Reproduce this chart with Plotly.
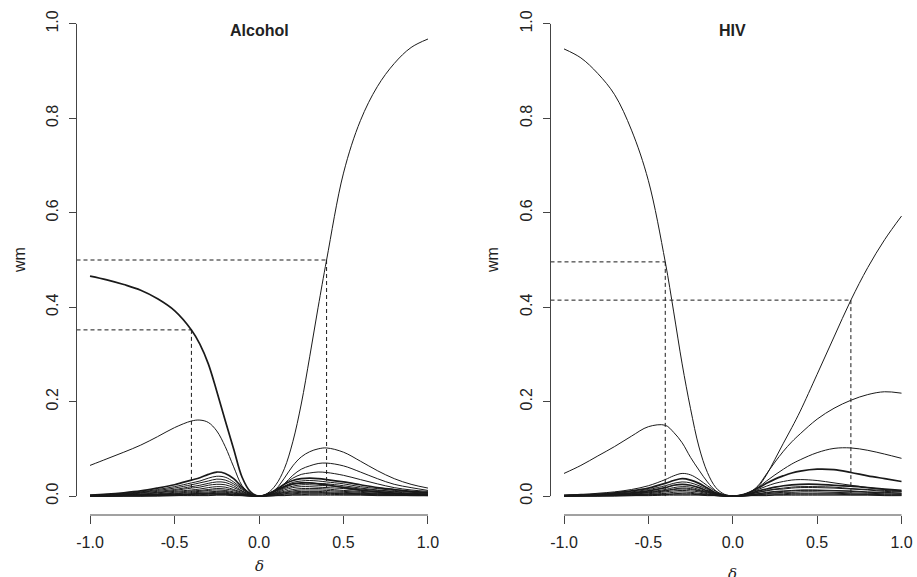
import plotly.graph_objects as go

# ---------------- data ----------------
DELTA = [-1.0, -0.9, -0.8, -0.7, -0.6, -0.5, -0.4, -0.35, -0.3, -0.25, -0.2, -0.15, -0.1, -0.05, 0.0,
         0.05, 0.1, 0.15, 0.2, 0.25, 0.3, 0.35, 0.4, 0.5, 0.6, 0.7, 0.8, 0.9, 1.0]

X_TICKS = [-1.0, -0.5, 0.0, 0.5, 1.0]
X_TICKTEXT = ["-1.0", "-0.5", "0.0", "0.5", "1.0"]
Y_TICKS = [0.0, 0.2, 0.4, 0.6, 0.8, 1.0]
Y_TICKTEXT = ["0.0", "0.2", "0.4", "0.6", "0.8", "1.0"]

PANEL_TITLES = ["Alcohol", "HIV"]

# Alcohol weights
alc_w1 = [0, 0, 0.001, 0.001, 0.002, 0.003, 0.004, 0.005, 0.005, 0.005, 0.005, 0.004, 0.003, 0.001, 0,
          0.006, 0.024, 0.058, 0.115, 0.195, 0.295, 0.40, 0.50, 0.684, 0.795, 0.867, 0.916, 0.950, 0.968]
alc_w2 = [0.466, 0.458, 0.448, 0.436, 0.418, 0.393, 0.352, 0.322, 0.28, 0.222, 0.16, 0.1, 0.04, 0.009, 0,
          0.004, 0.012, 0.02, 0.026, 0.028, 0.028, 0.026, 0.024, 0.018, 0.013, 0.009, 0.006, 0.004, 0.003]
alc_w3 = [0.065, 0.079, 0.093, 0.108, 0.126, 0.145, 0.159, 0.161, 0.156, 0.138, 0.105, 0.062, 0.022, 0.005, 0,
          0.004, 0.015, 0.038, 0.064, 0.083, 0.094, 0.1, 0.102, 0.093, 0.074, 0.054, 0.037, 0.025, 0.017]
alc_w4 = [0.002, 0.004, 0.007, 0.011, 0.017, 0.024, 0.034, 0.039, 0.046, 0.051, 0.048, 0.037, 0.019, 0.005, 0,
          0.004, 0.013, 0.025, 0.033, 0.037, 0.038, 0.037, 0.035, 0.030, 0.024, 0.018, 0.014, 0.010, 0.008]
alc_w5 = [0.002, 0.003, 0.006, 0.009, 0.014, 0.020, 0.028, 0.032, 0.038, 0.042, 0.040, 0.030, 0.016, 0.004, 0,
          0.003, 0.011, 0.026, 0.044, 0.057, 0.064, 0.069, 0.070, 0.064, 0.051, 0.037, 0.025, 0.018, 0.012]
alc_w6 = [0.001, 0.003, 0.005, 0.008, 0.012, 0.017, 0.024, 0.028, 0.032, 0.036, 0.034, 0.026, 0.014, 0.004, 0,
          0.004, 0.013, 0.026, 0.038, 0.046, 0.049, 0.051, 0.050, 0.044, 0.035, 0.026, 0.018, 0.013, 0.010]
alc_w7 = [0.001, 0.002, 0.004, 0.007, 0.010, 0.014, 0.020, 0.023, 0.027, 0.030, 0.029, 0.022, 0.011, 0.003, 0,
          0.003, 0.012, 0.021, 0.029, 0.032, 0.033, 0.032, 0.030, 0.026, 0.020, 0.016, 0.012, 0.009, 0.007]
alc_w8 = [0.001, 0.002, 0.004, 0.006, 0.008, 0.012, 0.017, 0.019, 0.023, 0.025, 0.024, 0.018, 0.010, 0.003, 0,
          0.003, 0.010, 0.018, 0.025, 0.027, 0.028, 0.027, 0.026, 0.022, 0.017, 0.013, 0.010, 0.008, 0.006]
alc_w9 = [0.001, 0.002, 0.003, 0.004, 0.007, 0.010, 0.013, 0.015, 0.018, 0.020, 0.019, 0.014, 0.008, 0.002, 0,
          0.002, 0.008, 0.016, 0.021, 0.024, 0.024, 0.023, 0.022, 0.019, 0.015, 0.012, 0.009, 0.006, 0.005]
alc_w10 = [0.001, 0.001, 0.002, 0.004, 0.005, 0.008, 0.011, 0.012, 0.014, 0.016, 0.015, 0.012, 0.006, 0.002, 0,
           0.002, 0.007, 0.013, 0.018, 0.020, 0.020, 0.019, 0.018, 0.016, 0.012, 0.010, 0.007, 0.005, 0.004]
alc_w11 = [0.001, 0.001, 0.002, 0.003, 0.004, 0.006, 0.009, 0.010, 0.012, 0.013, 0.012, 0.009, 0.005, 0.001, 0,
           0.002, 0.006, 0.010, 0.014, 0.016, 0.016, 0.016, 0.015, 0.012, 0.010, 0.008, 0.006, 0.004, 0.003]
alc_w12 = [0, 0.001, 0.001, 0.002, 0.003, 0.005, 0.007, 0.008, 0.009, 0.010, 0.010, 0.007, 0.004, 0.001, 0,
           0.001, 0.005, 0.008, 0.011, 0.013, 0.013, 0.013, 0.012, 0.010, 0.008, 0.006, 0.005, 0.004, 0.003]
alc_w13 = [0, 0.001, 0.001, 0.002, 0.003, 0.004, 0.005, 0.006, 0.007, 0.008, 0.008, 0.006, 0.003, 0.001, 0,
           0.001, 0.004, 0.007, 0.009, 0.010, 0.010, 0.010, 0.009, 0.008, 0.006, 0.005, 0.004, 0.003, 0.002]
alc_w14 = [0, 0, 0.001, 0.001, 0.002, 0.003, 0.004, 0.005, 0.005, 0.006, 0.006, 0.004, 0.002, 0.001, 0,
           0.001, 0.003, 0.005, 0.007, 0.008, 0.008, 0.008, 0.007, 0.006, 0.005, 0.004, 0.003, 0.002, 0.002]
alc_w15 = [0, 0, 0.001, 0.001, 0.001, 0.002, 0.003, 0.003, 0.004, 0.004, 0.004, 0.003, 0.002, 0, 0,
           0.001, 0.002, 0.004, 0.005, 0.006, 0.006, 0.006, 0.006, 0.005, 0.004, 0.003, 0.002, 0.002, 0.001]
alc_w16 = [0, 0, 0, 0, 0.001, 0.001, 0.002, 0.002, 0.002, 0.003, 0.003, 0.002, 0.001, 0, 0,
           0, 0.001, 0.002, 0.003, 0.003, 0.004, 0.004, 0.004, 0.003, 0.003, 0.002, 0.002, 0.001, 0.001]
alc_w17 = [0, 0, 0, 0, 0, 0.001, 0.001, 0.001, 0.001, 0.002, 0.002, 0.001, 0.001, 0, 0,
           0, 0.001, 0.001, 0.002, 0.002, 0.002, 0.002, 0.002, 0.002, 0.002, 0.001, 0.001, 0.001, 0.001]

# HIV weights
hiv_w1 = [0.947, 0.928, 0.895, 0.85, 0.775, 0.668, 0.496, 0.39, 0.28, 0.185, 0.104, 0.05, 0.018, 0.004, 0,
          0.001, 0.004, 0.008, 0.012, 0.015, 0.017, 0.019, 0.020, 0.020, 0.019, 0.016, 0.014, 0.012, 0.010]
hiv_w2 = [0.048, 0.065, 0.085, 0.105, 0.127, 0.147, 0.15, 0.135, 0.113, 0.082, 0.055, 0.03, 0.011, 0.002, 0,
          0.001, 0.002, 0.005, 0.007, 0.009, 0.010, 0.011, 0.012, 0.012, 0.011, 0.010, 0.008, 0.007, 0.006]
hiv_w3 = [0.001, 0.001, 0.002, 0.004, 0.006, 0.009, 0.014, 0.018, 0.020, 0.019, 0.014, 0.009, 0.004, 0.001, 0,
          0.002, 0.008, 0.02, 0.045, 0.078, 0.112, 0.145, 0.18, 0.258, 0.337, 0.415, 0.484, 0.543, 0.593]
hiv_w4 = [0.001, 0.001, 0.002, 0.003, 0.004, 0.007, 0.011, 0.014, 0.015, 0.014, 0.011, 0.007, 0.003, 0.001, 0,
          0.002, 0.008, 0.022, 0.047, 0.072, 0.095, 0.115, 0.132, 0.163, 0.186, 0.203, 0.215, 0.221, 0.218]
hiv_w5 = [0.002, 0.003, 0.006, 0.009, 0.014, 0.022, 0.035, 0.043, 0.048, 0.045, 0.035, 0.022, 0.010, 0.002, 0,
          0.002, 0.008, 0.018, 0.032, 0.045, 0.057, 0.068, 0.077, 0.092, 0.101, 0.102, 0.097, 0.089, 0.08]
hiv_w6 = [0.001, 0.003, 0.004, 0.007, 0.011, 0.017, 0.027, 0.033, 0.037, 0.034, 0.027, 0.017, 0.007, 0.002, 0,
          0.002, 0.008, 0.017, 0.027, 0.036, 0.043, 0.049, 0.053, 0.057, 0.056, 0.05, 0.043, 0.037, 0.031]
hiv_w7 = [0.001, 0.002, 0.004, 0.006, 0.009, 0.014, 0.022, 0.027, 0.030, 0.028, 0.022, 0.014, 0.006, 0.002, 0,
          0.002, 0.007, 0.014, 0.021, 0.027, 0.031, 0.034, 0.035, 0.033, 0.028, 0.023, 0.018, 0.014, 0.011]
hiv_w8 = [0.001, 0.002, 0.003, 0.005, 0.007, 0.011, 0.018, 0.023, 0.025, 0.023, 0.018, 0.011, 0.005, 0.001, 0,
          0.001, 0.005, 0.011, 0.015, 0.019, 0.022, 0.024, 0.025, 0.025, 0.023, 0.021, 0.018, 0.015, 0.012]
hiv_w9 = [0.001, 0.001, 0.002, 0.003, 0.005, 0.008, 0.012, 0.015, 0.017, 0.016, 0.012, 0.008, 0.003, 0.001, 0,
          0.001, 0.004, 0.008, 0.011, 0.014, 0.015, 0.017, 0.018, 0.018, 0.017, 0.015, 0.013, 0.010, 0.009]
hiv_w10 = [0, 0.001, 0.001, 0.002, 0.003, 0.005, 0.009, 0.011, 0.012, 0.011, 0.009, 0.005, 0.002, 0.001, 0,
           0.001, 0.003, 0.005, 0.008, 0.010, 0.011, 0.012, 0.013, 0.013, 0.012, 0.011, 0.009, 0.008, 0.006]
hiv_w11 = [0, 0.001, 0.001, 0.002, 0.003, 0.004, 0.006, 0.008, 0.009, 0.008, 0.006, 0.004, 0.002, 0, 0,
           0, 0.002, 0.004, 0.005, 0.007, 0.008, 0.008, 0.009, 0.009, 0.008, 0.007, 0.006, 0.005, 0.004]
hiv_w12 = [0, 0, 0.001, 0.001, 0.002, 0.003, 0.004, 0.005, 0.006, 0.006, 0.004, 0.003, 0.001, 0, 0,
           0, 0.001, 0.003, 0.004, 0.005, 0.005, 0.006, 0.006, 0.006, 0.006, 0.005, 0.004, 0.003, 0.003]
hiv_w13 = [0, 0, 0, 0.001, 0.001, 0.002, 0.003, 0.004, 0.004, 0.004, 0.003, 0.002, 0.001, 0, 0,
           0, 0.001, 0.002, 0.002, 0.003, 0.003, 0.004, 0.004, 0.004, 0.004, 0.003, 0.003, 0.002, 0.002]
hiv_w14 = [0, 0, 0, 0, 0.001, 0.001, 0.002, 0.002, 0.002, 0.002, 0.002, 0.001, 0.001, 0, 0,
           0, 0.001, 0.001, 0.001, 0.002, 0.002, 0.002, 0.002, 0.002, 0.002, 0.002, 0.002, 0.001, 0.001]

ALC_CURVES = [alc_w1, alc_w2, alc_w3, alc_w4, alc_w5, alc_w6, alc_w7, alc_w8, alc_w9,
              alc_w10, alc_w11, alc_w12, alc_w13, alc_w14, alc_w15, alc_w16, alc_w17]
ALC_THICK = {1, 3}
HIV_CURVES = [hiv_w1, hiv_w2, hiv_w3, hiv_w4, hiv_w5, hiv_w6, hiv_w7, hiv_w8, hiv_w9,
              hiv_w10, hiv_w11, hiv_w12, hiv_w13, hiv_w14]
HIV_THICK = {5, 7}

# reference (dashed) points
alc_ref_delta = [-0.4, 0.4]
alc_ref_w = [0.352, 0.5]
hiv_ref_delta = [-0.4, 0.7]
hiv_ref_w = [0.496, 0.415]

# ---------------- layout constants ----------------
W, H = 917, 577
X_RANGE = [-1.08, 1.08]
Y_RANGE = [-0.04, 1.04]
FONT = "Liberation Sans, Arial, Helvetica, sans-serif"
AXIS_COL = "#444444"
LINE_COL = "#1a1a1a"
TXT_COL = "#222222"


def px_x(p):
    return p / W


def px_y(p):
    return 1 - p / H


x_domains = [[px_x(76.5), px_x(441.5)], [px_x(550.5), px_x(915)]]
y_domain = [px_y(515), px_y(5)]

fig = go.Figure()

panels = [(ALC_CURVES, ALC_THICK, alc_ref_delta, alc_ref_w),
          (HIV_CURVES, HIV_THICK, hiv_ref_delta, hiv_ref_w)]

for i, (curves, thick, rdx, rdy) in enumerate(panels):
    xa = "x" if i == 0 else "x2"
    ya = "y" if i == 0 else "y2"
    for dx, wy in zip(rdx, rdy):
        fig.add_trace(go.Scatter(x=[X_RANGE[0], dx], y=[wy, wy], mode="lines",
                                 line=dict(color=LINE_COL, width=1, dash="4px,3px"),
                                 xaxis=xa, yaxis=ya, hoverinfo="skip"))
        fig.add_trace(go.Scatter(x=[dx, dx], y=[wy, Y_TICKS[0]], mode="lines",
                                 line=dict(color=LINE_COL, width=1, dash="4px,3px"),
                                 xaxis=xa, yaxis=ya, hoverinfo="skip"))
    for j, w in enumerate(curves):
        fig.add_trace(go.Scatter(x=DELTA, y=w, mode="lines",
                                 line=dict(color=LINE_COL, width=1.7 if j in thick else 1,
                                           shape="spline", smoothing=1.0),
                                 xaxis=xa, yaxis=ya, hoverinfo="skip"))

axis_common = dict(showgrid=False, zeroline=False, showline=False, ticks="outside",
                   tickcolor=AXIS_COL, tickwidth=1,
                   tickfont=dict(family=FONT, size=16, color=TXT_COL))

layout_axes = {}
for i in range(2):
    sx = "" if i == 0 else "2"
    layout_axes["xaxis" + sx] = dict(domain=x_domains[i], range=X_RANGE, tickvals=X_TICKS,
                                     ticktext=X_TICKTEXT, ticklen=8, ticklabelstandoff=5,
                                     anchor="y" + sx, **axis_common)
    layout_axes["yaxis" + sx] = dict(domain=y_domain, range=Y_RANGE, tickvals=Y_TICKS,
                                     ticktext=Y_TICKTEXT, ticklen=7, tickangle=-90,
                                     ticklabelstandoff=4, anchor="x" + sx, **axis_common)

fig.update_layout(width=W, height=H, margin=dict(l=0, r=0, t=0, b=0),
                  paper_bgcolor="white", plot_bgcolor="white", showlegend=False,
                  font=dict(family=FONT, color=TXT_COL), **layout_axes)

shapes = []
annotations = []
label_x_centers = [19, 492]
delta_y = [566, 574]
for i in range(2):
    sx = "" if i == 0 else "2"
    shapes.append(dict(type="line", xref="x" + sx, yref="y" + sx + " domain",
                       x0=X_TICKS[0], x1=X_TICKS[-1], y0=0, y1=0,
                       line=dict(color=AXIS_COL, width=1)))
    shapes.append(dict(type="line", xref="x" + sx + " domain", yref="y" + sx,
                       x0=0, x1=0, y0=Y_TICKS[0], y1=Y_TICKS[-1],
                       line=dict(color=AXIS_COL, width=1)))
    annotations.append(dict(text="<b>" + PANEL_TITLES[i] + "</b>", xref="x" + sx, yref="paper",
                            x=0, y=px_y(30), xanchor="center", yanchor="middle", showarrow=False,
                            font=dict(family=FONT, size=16, color=TXT_COL)))
    annotations.append(dict(text="wm", xref="paper", yref="paper", x=px_x(label_x_centers[i]),
                            y=px_y(260), xanchor="center", yanchor="middle", textangle=-90,
                            showarrow=False, font=dict(family=FONT, size=16, color=TXT_COL)))
    annotations.append(dict(text="<i>δ</i>", xref="x" + sx, yref="paper", x=0,
                            y=px_y(delta_y[i]), xanchor="center", yanchor="middle", showarrow=False,
                            font=dict(family="DejaVu Serif, serif", size=15, color=TXT_COL)))

fig.update_layout(shapes=shapes, annotations=annotations)

fig.write_html("out.html", config={"displayModeBar": False},
               post_script="document.body.style.margin='0';document.body.style.padding='0';")
